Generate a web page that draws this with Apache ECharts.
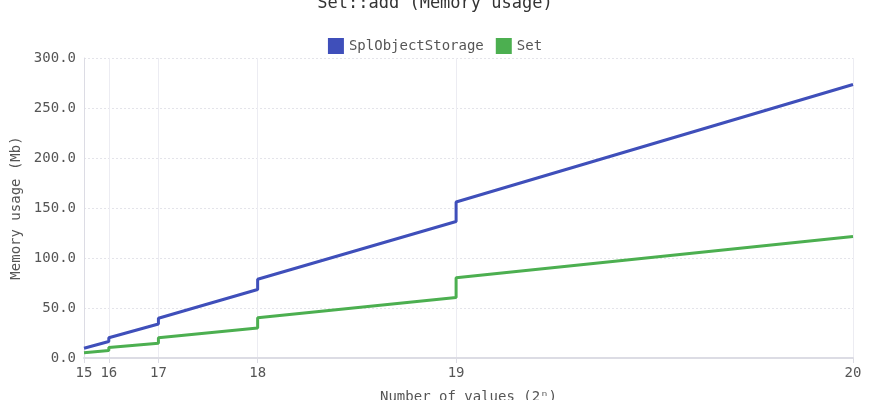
<!DOCTYPE html>
<html>
<head>
<meta charset="utf-8">
<script src="https://cdn.jsdelivr.net/npm/echarts@6/dist/echarts.min.js"></script>
<style>html,body{margin:0;padding:0;background:#fff}#c{width:870px;height:400px}</style>
</head>
<body>
<div id="c"></div>
<script>
// x positions: number of values (linear), labelled by exponent n of 2^n
const tickExponents = [15, 16, 17, 18, 19, 20];
const xValues = [32768, 65536, 65536, 131072, 131072, 262144, 262144, 524288, 524288, 1048576];
const splObjectStorage = [9.8, 16.5, 20.2, 34, 39.7, 68.5, 78.7, 136.5, 156, 273.5];
const setValues = [5.3, 7.4, 10.6, 14.8, 20.3, 30, 40.2, 60.5, 80.2, 121.5];
const seriesNames = ['SplObjectStorage', 'Set'];
const colors = ['#3F4FBA', '#4CAF50'];

const font = '"DejaVu Sans Mono", "Liberation Mono", monospace';
const tickValues = tickExponents.map(e => Math.pow(2, e));
function pairs(ys) { return xValues.map((x, i) => [x, ys[i]]); }

const chart = echarts.init(document.getElementById('c'), null, {renderer: 'canvas'});
chart.setOption({
  animation: false,
  color: colors,
  title: {
    text: 'Set::add (Memory usage)',
    left: 'center',
    top: -10,
    textStyle: {fontFamily: font, fontSize: 17, fontWeight: 'normal', color: '#333'}
  },
  legend: {
    top: 33,
    left: 'center',
    icon: 'rect',
    itemWidth: 16,
    itemHeight: 16,
    itemGap: 12,
    data: seriesNames,
    textStyle: {fontFamily: font, fontSize: 14, color: '#555'}
  },
  grid: {left: 84, right: 17, top: 58, bottom: 42, containLabel: false, outerBoundsMode: 'none'},
  xAxis: {
    type: 'value',
    min: tickValues[0],
    max: tickValues[tickValues.length - 1],
    name: 'Number of values (2ⁿ)',
    nameLocation: 'middle',
    nameGap: 32,
    nameTextStyle: {fontFamily: font, fontSize: 14, color: '#555'},
    axisLine: {show: true, lineStyle: {color: '#dcdce4', width: 2}},
    axisTick: {show: true, customValues: tickValues, length: 5, lineStyle: {color: '#dcdce4'}},
    axisLabel: {
      customValues: tickValues,
      fontFamily: font, fontSize: 14, color: '#555', margin: 8,
      formatter: v => String(Math.round(Math.log2(v)))
    },
    splitLine: {show: true, lineStyle: {color: '#ececf2', width: 1}}
  },
  yAxis: {
    type: 'value',
    min: 0,
    max: 300,
    interval: 50,
    name: 'Memory usage (Mb)',
    nameLocation: 'middle',
    nameGap: 60,
    nameTextStyle: {fontFamily: font, fontSize: 14, color: '#555'},
    axisLine: {show: true, lineStyle: {color: '#dcdce4', width: 1}},
    axisTick: {show: false},
    axisLabel: {fontFamily: font, fontSize: 14, color: '#555', margin: 8, formatter: v => v.toFixed(1)},
    splitLine: {show: true, lineStyle: {color: '#e4e4ea', width: 1, type: [2, 2]}}
  },
  series: [
    {name: seriesNames[0], type: 'line', data: pairs(splObjectStorage), showSymbol: false, lineStyle: {width: 3}},
    {name: seriesNames[1], type: 'line', data: pairs(setValues), showSymbol: false, lineStyle: {width: 3}}
  ]
});
</script>
</body>
</html>
